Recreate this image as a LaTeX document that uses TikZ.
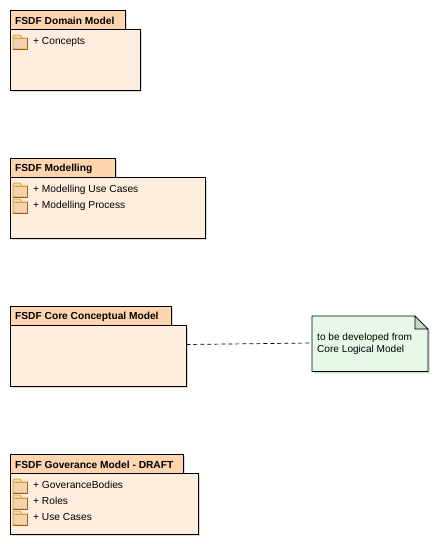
\documentclass[tikz,border=0pt]{standalone}
\usepackage{fontspec}
\setmainfont{Liberation Sans}
\usetikzlibrary{calc,positioning,shadows}

\definecolor{pkgbody}{HTML}{FFEEDD}
\definecolor{pkgtab}{HTML}{FFD5B0}
\definecolor{notefill}{HTML}{E6F9E9}
\definecolor{notefold}{HTML}{C2D6CA}
\definecolor{foldfill}{HTML}{F3D3AE}
\definecolor{foldline}{HTML}{D0A030}
\definecolor{foldedge}{HTML}{A85A20}

\tikzset{
  pkgshadow/.style={drop shadow={shadow xshift=2pt,shadow yshift=-2pt,fill=black!15,opacity=1}},
  pkgtitle/.style={draw=black,line width=0.8pt,fill=pkgtab,anchor=north west,minimum height=19pt,inner sep=0pt,pkgshadow},
  pkgbox/.style={draw=black,line width=0.8pt,fill=pkgbody,anchor=north west,minimum height=61pt,inner sep=0pt,pkgshadow},
  pkglabel/.style={anchor=west,inner sep=0pt,font=\fontsize{10.2}{12}\selectfont\bfseries},
  pkgitem/.style={anchor=west,inner sep=0pt,font=\fontsize{10.2}{12}\selectfont},
  notebody/.style={anchor=north west,minimum width=115.5pt,minimum height=55pt,inner sep=0pt},
  notetext/.style={anchor=north west,inner sep=0pt,align=left,font=\fontsize{10.1}{12}\selectfont},
  folder/.pic={
    \draw[foldline,fill=foldfill,line width=0.8pt]
      (0,2) -- (0,14) -- (14.5,14) -- (14.5,3) -- (9,3) -- (7,0) -- (1,0) -- cycle;
    \draw[foldline,line width=0.8pt] (0,3) -- (14.5,3);
    \draw[foldedge,line width=0.8pt] (0,14) -- (14.5,14) -- (14.5,3);
  }
}

\begin{document}
\begin{tikzpicture}[x=1pt,y=-1pt]
  \useasboundingbox (0,0) rectangle (437,544);

  % domain model
  \node[pkgtitle,minimum width=115pt] (T1) at (9.5,9.5) {};
  \node[pkgbox,minimum width=130pt] (B1) at (9.5,28.5) {};
  \node[pkglabel] (L1) at (15,21) {FSDF Domain Model};
  \pic at (13,35) {folder};
  \node[pkgitem] (I11) at (33,42) {+ Concepts};

  % modelling
  \node[pkgtitle,minimum width=105pt] (T2) at (9.5,157.5) {};
  \node[pkgbox,minimum width=195pt] (B2) at (9.5,176.5) {};
  \node[pkglabel] (L2) at (15,169) {FSDF Modelling};
  \pic at (13,183) {folder};
  \pic at (13,199) {folder};
  \node[pkgitem] (I21) at (33,190) {+ Modelling Use Cases};
  \node[pkgitem] (I22) at (33,206) {+ Modelling Process};

  % core conceptual model
  \node[pkgtitle,minimum width=161pt] (T3) at (9.5,305.5) {};
  \node[pkgbox,minimum width=176pt] (B3) at (9.5,324.5) {};
  \node[pkglabel] (L3) at (15,317) {FSDF Core Conceptual Model};

  % governance model
  \node[pkgtitle,minimum width=173pt] (T4) at (9.5,453.5) {};
  \node[pkgbox,minimum width=188pt] (B4) at (9.5,472.5) {};
  \node[pkglabel] (L4) at (15,465) {FSDF Goverance Model - DRAFT};
  \pic at (13,479) {folder};
  \pic at (13,495) {folder};
  \pic at (13,511) {folder};
  \node[pkgitem] (I41) at (33,485) {+ GoveranceBodies};
  \node[pkgitem] (I42) at (33,501) {+ Roles};
  \node[pkgitem] (I43) at (33,517) {+ Use Cases};

  % note
  \node[notebody] (N) at (312,316) {};
  \fill[black!15] ($(N.north west)+(2,2)$) -- ($(N.north east)+(-11,2)$) -- ($(N.north east)+(2,15)$)
    -- ($(N.south east)+(2,2)$) -- ($(N.south west)+(2,2)$) -- cycle;
  \draw[line width=0.8pt,fill=notefill] (N.north west) -- ($(N.north east)+(-13,0)$) -- ($(N.north east)+(0,13)$)
    -- (N.south east) -- (N.south west) -- cycle;
  \draw[line width=0.8pt,fill=notefold] ($(N.north east)+(-13,0)$) -- ($(N.north east)+(-13,13)$)
    -- ($(N.north east)+(0,13)$) -- cycle;
  \node[notetext] (NT) at (317,332.5) {to be developed from\\Core Logical Model};

  \draw[line width=0.7pt,dash pattern=on 4pt off 3pt] ($(B3.north east)+(0,20)$) -- ($(N.north west)+(0,27)$);
\end{tikzpicture}
\end{document}
